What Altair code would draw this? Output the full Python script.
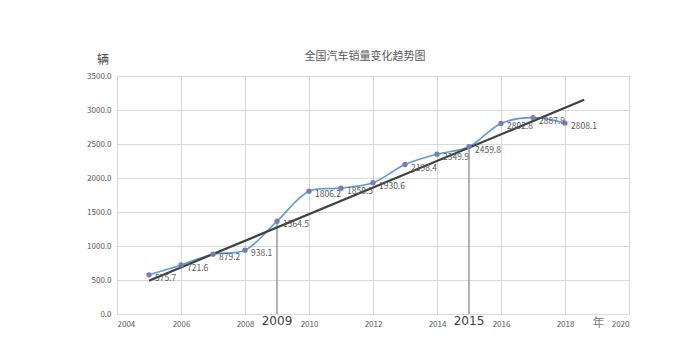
import altair as alt
import pandas as pd

years = [2005, 2006, 2007, 2008, 2009, 2010, 2011, 2012, 2013, 2014, 2015, 2016, 2017, 2018]
sales = [575.7, 721.6, 879.2, 938.1, 1364.5, 1806.2, 1850.5, 1930.6, 2198.4, 2349.9, 2459.8, 2802.8, 2887.9, 2808.1]
trend_years = [2005, 2018.6]
trend_values = [490, 3150]
mark_years = [2009, 2015]
mark_values = [1364.5, 2459.8]
x_ticks = [2004, 2006, 2008, 2010, 2012, 2014, 2016, 2018, 2020]
y_ticks = [0, 500, 1000, 1500, 2000, 2500, 3000, 3500]

df = pd.DataFrame({"year": years, "sales": sales})
df["label"] = [f"{v:.1f}" for v in sales]
trend = pd.DataFrame({"year": trend_years, "sales": trend_values})
marks = pd.DataFrame({"year": mark_years, "sales": mark_values, "zero": [0, 0],
                      "label": [str(y) for y in mark_years]})

W, H = 512, 238
xs = alt.Scale(domain=[2004, 2020], nice=False, zero=False)
ys = alt.Scale(domain=[0, 3500], nice=False)
FONT = "Noto Sans CJK SC"

xax = alt.Axis(values=x_ticks, tickCount=9, format="d", title=None, domain=False, ticks=False,
               labelFontSize=8, labelColor="#595959", labelPadding=6, labelOverlap=False,
               gridColor="#d9d9d9", labelFont=FONT)
yax = alt.Axis(values=y_ticks, tickCount=8, format=".1f", title=None, domain=False, ticks=False,
               labelFontSize=8, labelColor="#595959", labelPadding=6, labelOverlap=False,
               gridColor="#d9d9d9", labelFont=FONT)

X = alt.X("year:Q", scale=xs, axis=xax)
Y = alt.Y("sales:Q", scale=ys, axis=yax)

base = alt.Chart(df)

vrules = alt.Chart(marks).mark_rule(color="#7f7f7f", strokeWidth=1.2).encode(
    x=X, y=Y, y2="zero:Q",
)

line = base.mark_line(interpolate="catmull-rom", color="#5b9bd5", strokeWidth=1.6).encode(x=X, y=Y)

trend_line = alt.Chart(trend).mark_line(color="#404040", strokeWidth=2.2).encode(x=X, y=Y)

pts = base.mark_circle(size=28, color="#7a7ab8", opacity=1).encode(x=X, y=Y)

labels = base.mark_text(align="left", dx=6, dy=3, fontSize=8.5, color="#595959", font=FONT).encode(
    x=X, y=Y, text="label:N",
)

year_labels = alt.Chart(marks).mark_text(fontSize=12, color="#404040", baseline="top",
                                          font="DejaVu Sans").encode(
    x=X, y=alt.value(H + 2), text="label:N",
)

nian = alt.Chart(pd.DataFrame({"t": ["年"], "year": [2019.05]})).mark_text(
    fontSize=12, color="#7f7f7f", baseline="top", font=FONT).encode(
    x=X, y=alt.value(H + 4), text="t:N",
)

liang = alt.Chart(pd.DataFrame({"t": ["辆"]})).mark_text(
    fontSize=12, color="#404040", font=FONT).encode(
    x=alt.value(-14), y=alt.value(-16), text="t:N",
)

title = alt.Chart(pd.DataFrame({"t": ["全国汽车销量变化趋势图"]})).mark_text(
    fontSize=11, color="#595959", font=FONT).encode(
    x=alt.value(W / 2 - 8), y=alt.value(-19), text="t:N",
)

chart = alt.layer(vrules, line, trend_line, pts, labels, year_labels, nian, liang, title).properties(
    width=W, height=H,
    autosize=alt.AutoSizeParams(type="none"),
    padding={"left": 109, "top": 68, "right": 60, "bottom": 40},
).configure_view(stroke=None).configure(background="white")

chart.save("out.html", embed_options={"renderer": "svg", "actions": False})
